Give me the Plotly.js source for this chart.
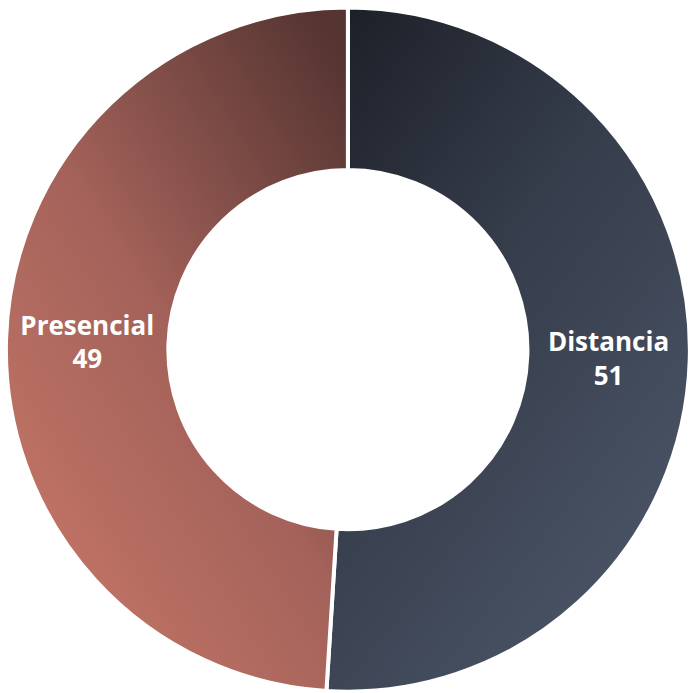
<!DOCTYPE html>
<html><head><meta charset="utf-8">
<script src="https://cdn.plot.ly/plotly-3.0.1.min.js"></script>
<style>html,body{margin:0;padding:0;background:#fff;}#chart{width:693px;height:693px;}</style>
</head><body><div id="chart"></div>
<script>
const categories = ["Distancia", "Presencial"];
const values = [51, 49];
const colors = ["#3b4352", "#9c5c52"];

const trace = {
  type: "pie",
  labels: categories,
  values: values,
  hole: 0.525,
  sort: false,
  direction: "clockwise",
  rotation: 0,
  marker: {colors: colors, line: {color: "#ffffff", width: 4}},
  textinfo: "label+value",
  texttemplate: "%{label}<br>%{value}",
  textposition: "inside",
  insidetextorientation: "horizontal",
  textfont: {family: "'Open Sans', Lato, sans-serif", size: 26, color: "#ffffff", weight: 700},
  hoverinfo: "none",
  domain: {x: [0.006, 0.998], y: [0.002, 0.989]}
};
const layout = {
  width: 693, height: 693,
  margin: {l: 0, r: 0, t: 0, b: 0},
  showlegend: false,
  paper_bgcolor: "#ffffff"
};
Plotly.newPlot("chart", [trace], layout, {displayModeBar: false, staticPlot: true}).then(function(gd){
  const svg = gd.querySelector("svg.main-svg");
  const ns = "http://www.w3.org/2000/svg";
  const defs = document.createElementNS(ns, "defs");
  function grad(id, x1, y1, x2, y2, stops){
    const g = document.createElementNS(ns, "linearGradient");
    g.setAttribute("id", id);
    g.setAttribute("x1", x1); g.setAttribute("y1", y1);
    g.setAttribute("x2", x2); g.setAttribute("y2", y2);
    stops.forEach(function(s){
      const st = document.createElementNS(ns, "stop");
      st.setAttribute("offset", s[0]); st.setAttribute("stop-color", s[1]);
      g.appendChild(st);
    });
    defs.appendChild(g);
  }
  grad("gDist", "0", "0", "0.7", "1", [["0", "#1b1e26"], ["0.45", "#353c4a"], ["1", "#4b5567"]]);
  grad("gPres", "0.1", "1", "0.9", "0", [["0", "#c97968"], ["0.5", "#a4625a"], ["1", "#553431"]]);
  svg.insertBefore(defs, svg.firstChild);
  const paths = gd.querySelectorAll(".slice path.surface");
  const ids = ["gDist", "gPres"];
  paths.forEach(function(p, i){ p.style.fill = "url(#" + ids[i] + ")"; });
});
</script></body></html>
